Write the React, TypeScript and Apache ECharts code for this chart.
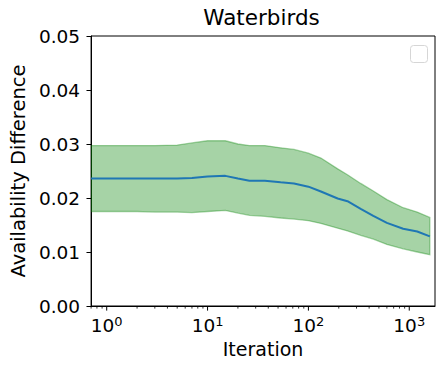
import React, { useEffect, useRef } from "react";
import * as echarts from "echarts";

const titleText = "Waterbirds";
const xName = "Iteration";
const yName = "Availability Difference";

const iterations = [0.7, 1, 2, 3, 5, 7, 10, 15, 20, 26, 37, 53, 72, 100, 133, 195, 244, 330, 440, 600, 870, 1200, 1600];
const meanDiff = [0.0236, 0.0236, 0.0236, 0.0236, 0.0236, 0.0237, 0.024, 0.0241, 0.0236, 0.0232, 0.0232, 0.0229, 0.0227, 0.0221, 0.0212, 0.0199, 0.0194, 0.018, 0.0167, 0.0154, 0.0143, 0.0138, 0.0129];
const upperDiff = [0.0297, 0.0297, 0.0297, 0.0297, 0.0298, 0.0302, 0.0306, 0.0306, 0.03, 0.0297, 0.0297, 0.0293, 0.029, 0.0283, 0.0274, 0.0254, 0.0243, 0.0227, 0.0213, 0.0197, 0.0182, 0.0174, 0.0164];
const lowerDiff = [0.0175, 0.0175, 0.0175, 0.0174, 0.0174, 0.0173, 0.0175, 0.0177, 0.0172, 0.0168, 0.0166, 0.0163, 0.0161, 0.0158, 0.0153, 0.0144, 0.0139, 0.0131, 0.0124, 0.0114, 0.0106, 0.01, 0.0095];

const xMin = 0.7;
const xMax = 1800;
const yMin = 0;
const yMax = 0.05;
const yStep = 0.01;
const majorXTicks = [1, 10, 100, 1000];
const minorXTicks = [0.7, 0.8, 0.9, 2, 3, 4, 5, 6, 7, 8, 9, 20, 30, 40, 50, 60, 70, 80, 90, 200, 300, 400, 500, 600, 700, 800, 900];

const FONT = "DejaVu Sans";

export default function App() {
  const ref = useRef<HTMLDivElement>(null);
  useEffect(() => {
    if (!ref.current) return;
    const chart = echarts.init(ref.current, null, { renderer: "svg" });
    const tickSeries = (vals: number[], len: number, width: number) => ({
      type: "custom",
      silent: true,
      clip: false,
      z: 5,
      data: vals.map((v) => [v, yMin]),
      renderItem: (_p: any, api: any) => {
        const pt = api.coord([api.value(0), api.value(1)]);
        return {
          type: "line",
          shape: { x1: pt[0], y1: pt[1], x2: pt[0], y2: pt[1] + len },
          style: { stroke: "#000", lineWidth: width },
        };
      },
    });
    chart.setOption({
      animation: false,
      backgroundColor: "#fff",
      title: {
        text: titleText,
        left: 261.5,
        top: 6,
        padding: 0,
        textAlign: "center",
        textStyle: { fontFamily: FONT, fontSize: 21.5, fontWeight: "normal", color: "#000" },
      },
      grid: { left: 88, right: 11, top: 36, bottom: 66, show: true, borderColor: "#000", borderWidth: 1, backgroundColor: "transparent" },
      xAxis: {
        type: "log",
        logBase: 10,
        min: xMin,
        max: xMax,
        name: xName,
        nameLocation: "middle",
        nameGap: 33,
        nameTextStyle: { fontFamily: FONT, fontSize: 19, color: "#000" },
        axisLine: { show: true, lineStyle: { color: "#000", width: 1 } },
        axisTick: { show: false },
        splitLine: { show: false },
        minorTick: { show: false },
        axisLabel: {
          margin: 9,
          fontFamily: FONT,
          color: "#000",
          showMinLabel: false,
          showMaxLabel: false,
          formatter: (v: number) => {
            const e = Math.round(Math.log10(v));
            return Math.abs(v - Math.pow(10, e)) < 1e-6 * v ? `{b|10}{s|${e}}` : "";
          },
          rich: {
            b: { fontFamily: FONT, fontSize: 18.5, lineHeight: 20, verticalAlign: "bottom", color: "#000" },
            s: { fontFamily: FONT, fontSize: 13, lineHeight: 13, verticalAlign: "top", color: "#000" },
          },
        },
      },
      yAxis: {
        type: "value",
        min: yMin,
        max: yMax,
        interval: yStep,
        name: yName,
        nameLocation: "middle",
        nameGap: 62,
        nameTextStyle: { fontFamily: FONT, fontSize: 19.5, color: "#000" },
        axisLine: { show: true, lineStyle: { color: "#000", width: 1 } },
        axisTick: { show: true, length: 4.6, lineStyle: { color: "#000", width: 1 } },
        splitLine: { show: false },
        axisLabel: {
          margin: 11,
          fontFamily: FONT,
          fontSize: 18.5,
          color: "#000",
          formatter: (v: number) => v.toFixed(2),
        },
      },
      graphic: [
        {
          type: "rect",
          right: 18,
          top: 45,
          shape: { width: 17, height: 17, r: 3 },
          style: { fill: "#fff", stroke: "#d6d6d6", lineWidth: 1 },
          z: 100,
        },
      ],
      series: [
        {
          type: "custom",
          silent: true,
          clip: true,
          z: 2,
          data: [[iterations[0], lowerDiff[0]]],
          renderItem: (_p: any, api: any) => {
            const pts: number[][] = [];
            for (let i = 0; i < iterations.length; i++) pts.push(api.coord([iterations[i], upperDiff[i]]));
            for (let i = iterations.length - 1; i >= 0; i--) pts.push(api.coord([iterations[i], lowerDiff[i]]));
            return {
              type: "polygon",
              shape: { points: pts },
              style: { fill: "rgba(0,128,0,0.35)", stroke: "rgba(0,128,0,0.35)", lineWidth: 1.3 },
            };
          },
        },
        {
          type: "line",
          z: 3,
          data: iterations.map((x, i) => [x, meanDiff[i]]),
          showSymbol: false,
          symbol: "none",
          lineStyle: { color: "#1f77b4", width: 2 },
          itemStyle: { color: "#1f77b4" },
        },
        tickSeries(majorXTicks, 4.6, 1),
        tickSeries(minorXTicks, 2.6, 0.8),
      ],
    });
    return () => chart.dispose();
  }, []);
  return <div ref={ref} style={{ width: 446, height: 372, position: "absolute", left: 0, top: 0 }} />;
}
